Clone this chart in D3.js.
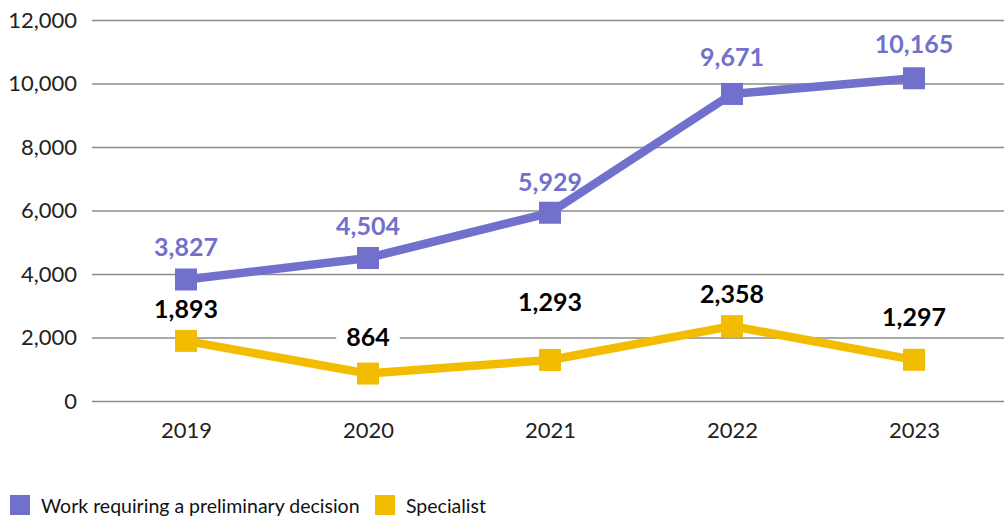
<!DOCTYPE html>
<html>
<head>
<meta charset="utf-8">
<script src="https://cdn.jsdelivr.net/npm/d3@7"></script>
<style>
	body { margin: 0; background: #fff; }
	svg text { font-family: Lato, 'DejaVu Sans', sans-serif; }
</style>
</head>
<body>
<div id="chart"></div>
<script>
var years = ['2019', '2020', '2021', '2022', '2023'];
var workValues = [3827, 4504, 5929, 9671, 10165];
var specialistValues = [1893, 864, 1293, 2358, 1297];
var yTicks = [0, 2000, 4000, 6000, 8000, 10000, 12000];
var seriesNames = ['Work requiring a preliminary decision', 'Specialist'];

// label offsets above the marker (px), as placed in the original
var workLabelDy = [-32, -32, -31, -37, -34];
var specLabelDy = [-32, -37, -58, -32, -43];

(function () {
	'use strict';

	var width = 1004, height = 527;
	var colors = ['#7171CD', '#F2BD00'];

	var svg = d3.select('#chart').append('svg')
		.attr('width', width)
		.attr('height', height);

	var x = d3.scalePoint().domain(years).range([95, 1005]).padding(0.5);
	var y = d3.scaleLinear().domain([0, 12000]).range([401, 20]);

	var fmt = d3.format(',');

	// grid + y labels
	var yAxis = d3.axisLeft(y).tickValues(yTicks).tickFormat(fmt)
		.tickSize(-(1004 - 92)).tickPadding(15);
	var gy = svg.append('g').attr('transform', 'translate(92,0)').call(yAxis);
	gy.select('.domain').remove();
	gy.selectAll('line').attr('stroke', '#8c8c8c').attr('stroke-width', 1.5);
	gy.selectAll('text').attr('font-size', 22).attr('fill', '#222');

	// x labels
	var xAxis = d3.axisBottom(x).tickSize(0).tickPadding(21);
	var gx = svg.append('g').attr('transform', 'translate(0,401)').call(xAxis);
	gx.select('.domain').remove();
	gx.selectAll('text').attr('font-size', 22).attr('fill', '#222');

	function drawSeries (vals, color, dys, labelColor, boxed)	{
		var line = d3.line()
			.x(function (d, i) { return x(years[i]); })
			.y(function (d) { return y(d); });

		svg.append('path')
			.datum(vals)
			.attr('d', line)
			.attr('fill', 'none')
			.attr('stroke', color)
			.attr('stroke-width', 8.5)
			.attr('stroke-linejoin', 'round');

		svg.selectAll(null).data(vals).enter().append('rect')
			.attr('x', function (d, i) { return x(years[i]) - 11; })
			.attr('y', function (d) { return y(d) - 11; })
			.attr('width', 22)
			.attr('height', 22)
			.attr('fill', color);

		var g = svg.append('g');
		vals.forEach(function (d, i)	{
			var t = g.append('text')
				.attr('x', x(years[i]))
				.attr('y', y(d) + dys[i])
				.attr('dy', '0.36em')
				.attr('text-anchor', 'middle')
				.attr('font-size', 25)
				.attr('font-weight', 'bold')
				.attr('fill', labelColor)
				.text(fmt(d));
			if (boxed)	{
				var bb = t.node().getBBox();
				g.insert('rect', function () { return t.node(); })
					.attr('x', bb.x - 10)
					.attr('y', bb.y)
					.attr('width', bb.width + 20)
					.attr('height', bb.height)
					.attr('fill', '#fff');
			}
		});
	}

	drawSeries(specialistValues, colors[1], specLabelDy, '#000', true);
	drawSeries(workValues, colors[0], workLabelDy, colors[0], false);

	// legend
	var legend = svg.append('g');
	var lx = [10, 375];
	seriesNames.forEach(function (name, i)	{
		legend.append('rect')
			.attr('x', lx[i])
			.attr('y', 495)
			.attr('width', 20)
			.attr('height', 20)
			.attr('fill', colors[i]);
		legend.append('text')
			.attr('x', lx[i] + 31)
			.attr('y', 506)
			.attr('dy', '0.36em')
			.attr('font-size', 19.5)
			.attr('fill', '#111')
			.text(name);
	});
})();
</script>
</body>
</html>
